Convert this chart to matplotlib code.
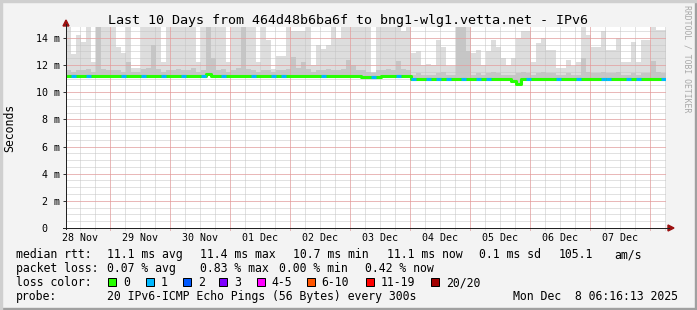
import numpy as np
import matplotlib
matplotlib.use("Agg")
import matplotlib.pyplot as plt
from matplotlib.patches import Rectangle, Polygon
from matplotlib.lines import Line2D

plt.rcParams['font.family'] = ['DejaVu Sans Mono']

W, H = 697, 310

# ---- data ---------------------------------------------------------------
title = "Last 10 Days from 464d48b6ba6f to bng1-wlg1.vetta.net - IPv6"
day_labels = ["28 Nov", "29 Nov", "30 Nov", "01 Dec", "02 Dec",
              "03 Dec", "04 Dec", "05 Dec", "06 Dec", "07 Dec"]
start_hour = 6 + 16 / 60 + 13 / 3600      # Nov 28 06:16:13
span_hours = 240
bin_hours = 2
y_max = 14.8

y_ticks = [0, 2, 4, 6, 8, 10, 12, 14]
y_tick_labels = ["0  ", "2 m", "4 m", "6 m", "8 m", "10 m", "12 m", "14 m"]

# max ping (outer smoke), ms, one value per 2h bin
smoke_top = [
    14.8, 12.8, 14.2, 13.7, 14.8, 12.2, 14.8, 14.8, 14.8, 14.8,
    13.3, 12.9, 14.8, 11.8, 11.8, 14.8, 14.8, 14.8, 14.8, 12.2,
    14.8, 14.8, 14.8, 14.8, 14.8, 14.8, 12.2, 14.8, 14.8, 14.8,
    14.8, 14.8, 12.2, 14.8, 14.8, 14.8, 14.8, 14.8, 12.2, 14.8,
    13.85, 11.7, 12.7, 12.7, 14.8, 14.5, 14.5, 14.5, 14.8, 12.0,
    13.5, 13.2, 13.5, 14.8, 14.0, 14.8, 14.8, 14.8, 14.8, 14.8,
    14.8, 11.5, 14.8, 14.8, 14.8, 14.8, 14.8, 14.5, 14.8, 12.9,
    13.0, 12.0, 12.1, 12.0, 13.85, 13.3, 11.9, 11.9, 14.8, 14.8,
    14.8, 12.9, 13.1, 12.0, 13.0, 13.85, 13.3, 12.5, 12.0, 12.5,
    14.0, 14.5, 14.5, 12.2, 13.6, 14.0, 13.1, 13.1, 11.8, 11.8,
    12.4, 11.9, 12.2, 14.8, 14.2, 13.3, 13.3, 14.5, 13.1, 13.1,
    14.0, 12.2, 12.2, 13.7, 12.2, 13.85, 13.85, 14.8, 14.6, 14.6,
]
# inner smoke, ms
smoke_mid = [
    11.6, 11.5, 11.6, 11.6, 11.7, 11.5, 14.8, 11.7, 11.6, 11.6,
    11.6, 11.5, 12.2, 11.5, 11.5, 11.7, 11.8, 13.5, 11.7, 11.5,
    11.6, 11.6, 11.7, 11.6, 11.6, 11.8, 11.5, 11.6, 14.8, 12.5,
    11.6, 11.7, 11.5, 11.6, 11.8, 14.8, 11.7, 11.6, 11.5, 11.6,
    11.6, 11.5, 11.6, 11.6, 11.7, 12.6, 11.8, 12.2, 11.7, 11.5,
    11.6, 11.6, 11.7, 11.6, 11.6, 11.7, 12.4, 12.0, 11.6, 11.6,
    11.5, 11.4, 11.6, 11.6, 11.7, 11.6, 12.3, 11.7, 11.6, 11.3,
    11.4, 11.3, 11.3, 11.3, 11.4, 11.5, 11.3, 11.3, 14.8, 14.8,
    13.0, 11.3, 11.4, 11.3, 11.4, 11.5, 11.4, 11.3, 11.3, 11.3,
    11.4, 11.5, 11.4, 11.3, 11.4, 11.5, 11.4, 11.4, 11.3, 11.3,
    11.4, 11.3, 11.3, 12.5, 11.5, 11.4, 11.4, 11.5, 11.4, 11.4,
    11.5, 11.3, 11.3, 11.4, 11.3, 11.4, 11.4, 12.3, 11.5, 11.4,
]
# median rtt, ms
median_ms = [
    11.18, 11.18, 11.18, 11.18, 11.18, 11.18, 11.18, 11.18, 11.18, 11.18,
    11.18, 11.18, 11.18, 11.18, 11.18, 11.18, 11.18, 11.18, 11.18, 11.18,
    11.18, 11.18, 11.18, 11.18, 11.18, 11.18, 11.18, 11.18, 11.35, 11.18,
    11.18, 11.18, 11.18, 11.18, 11.18, 11.18, 11.18, 11.18, 11.18, 11.18,
    11.18, 11.18, 11.18, 11.18, 11.18, 11.18, 11.18, 11.18, 11.18, 11.18,
    11.18, 11.18, 11.18, 11.18, 11.18, 11.18, 11.18, 11.18, 11.18, 11.12,
    11.12, 11.12, 11.12, 11.22, 11.22, 11.22, 11.22, 11.22, 11.22, 10.98,
    10.98, 10.98, 10.98, 10.98, 10.98, 10.98, 10.98, 10.98, 10.98, 10.98,
    10.98, 10.98, 10.98, 10.98, 10.98, 10.98, 10.98, 10.98, 10.98, 10.80,
    10.62, 10.98, 10.98, 10.98, 10.98, 10.98, 10.98, 10.98, 10.98, 10.98,
    10.98, 10.98, 10.98, 10.98, 10.98, 10.98, 10.98, 10.98, 10.98, 10.98,
    10.98, 10.98, 10.98, 10.98, 10.98, 10.98, 10.98, 10.98, 10.98, 10.98,
]
# bins with 1/20 lost
loss1_bins = [1, 4, 11, 15, 19, 23, 27, 31, 37, 41, 43, 51, 61, 66, 69, 72,
              74, 76, 79, 82, 84, 92, 98, 102, 107, 108, 112, 114, 119]

loss_names = ["0", "1", "2", "3", "4-5", "6-10", "11-19", "20/20"]
loss_colors = ["#26ff00", "#00b8ff", "#0059ff", "#7e00ff",
               "#ff00ff", "#ff5500", "#ff0000", "#a10000"]

rtt_stats = ["11.1 ms avg", "11.4 ms max", "10.7 ms min", "11.1 ms now",
             "0.1 ms sd", "105.1", "am/s"]
loss_stats = ["0.07 % avg", "0.83 % max", "0.00 % min", "0.42 % now"]
probe_text = "20 IPv6-ICMP Echo Pings (56 Bytes) every 300s"
stamp_text = "Mon Dec  8 06:16:13 2025"

# ---- figure -------------------------------------------------------------
fig = plt.figure(figsize=(W / 100, H / 100), dpi=100, facecolor="#f3f3f3")
ax = fig.add_axes([66 / W, (H - 228) / H, 600 / W, 201 / H])
ax.set_facecolor("white")
ax.set_xlim(0, span_hours)
ax.set_ylim(0, y_max)
for s in ax.spines.values():
    s.set_visible(False)


def px(x, y):
    return x / W, 1 - y / H


def ext(v):
    v = np.asarray(v, float)
    return np.append(v, v[-1])


edges = np.arange(len(median_ms) + 1) * bin_hours
med = np.asarray(median_ms)

# smoke
ax.fill_between(edges, ext(med), ext(smoke_top), step="post",
                color="#dddddd", lw=0, zorder=1)
ax.fill_between(edges, ext(med), ext(smoke_mid), step="post",
                color="#c6c6c6", lw=0, zorder=1.1)

# grid (dotted)
dash = (0, (1, 1))
first_midnight = 24 - start_hour
minor_x = np.arange(first_midnight - 12, span_hours, 6)
major_x = np.arange(first_midnight, span_hours, 24)
gkw = dict(lw=0.72, ls=dash)
for x in minor_x:
    ax.axvline(x, ymin=-0.01, color="#c4c4c4", zorder=2, clip_on=False, **gkw)
for y in np.arange(0.5, y_max, 0.5):
    ax.axhline(y, color="#c4c4c4", zorder=2, **gkw)
for x in major_x:
    ax.axvline(x, ymin=-0.01, color="#f29090", zorder=2.1, clip_on=False, **gkw)
for y in y_ticks[1:]:
    ax.axhline(y, color="#f29090", zorder=2.1, **gkw)

# median line coloured by loss
ax.step(edges, ext(med), where="post", color=loss_colors[0], lw=2.2,
        zorder=4, solid_capstyle="butt")
for i in loss1_bins:
    ax.plot(edges[i:i + 2], [med[i], med[i]], color=loss_colors[1], lw=2.2,
            zorder=5, solid_capstyle="butt")

# ticks
noon_x = first_midnight - 12 + 24 * np.arange(len(day_labels))
ax.set_xticks(noon_x, day_labels)
ax.tick_params(axis="x", length=0, pad=3.6, labelsize=7.2)
ax.set_yticks(y_ticks, y_tick_labels)
ax.tick_params(axis="y", length=2.2, width=0.72, pad=2.2, labelsize=7.2,
               color="#333333")

# axes with arrows
fig.add_artist(Line2D([66 / W, 66 / W], [px(0, 229)[1], px(0, 24)[1]],
                      color="#222222", lw=0.72))
fig.add_artist(Line2D([px(63, 0)[0], px(669, 0)[0]], [px(0, 228)[1]] * 2,
                      color="#222222", lw=0.72))
fig.add_artist(Polygon([px(63, 26), px(69, 26), px(66, 20)], closed=True,
                       transform=fig.transFigure, color="#9b1010"))
fig.add_artist(Polygon([px(668, 225), px(668, 231), px(674, 228)], closed=True,
                       transform=fig.transFigure, color="#9b1010"))

# frame
fig.add_artist(Rectangle((0, 0), 1, 2 / H, transform=fig.transFigure, color="#a0a0a0"))
fig.add_artist(Rectangle((1 - 2 / W, 0), 2 / W, 1, transform=fig.transFigure, color="#a0a0a0"))
fig.add_artist(Rectangle((0, 1 - 2 / H), 1, 2 / H, transform=fig.transFigure, color="#cfcfcf"))
fig.add_artist(Rectangle((0, 0), 2 / W, 1, transform=fig.transFigure, color="#cfcfcf"))

# texts
fig.text(*px(348, 24), title, ha="center", va="baseline", fontsize=9.6)
fig.text(*px(10, 127.5), "Seconds", rotation=90, ha="center", va="center", fontsize=8.3)
fig.text(*px(687, 5), "RRDTOOL / TOBI OETIKER", rotation=270, ha="center", va="top",
         fontsize=5.9, color="#a8a8a8")

tsize = 8.3
rows = [258.3, 272.3, 286, 300]
fig.text(*px(16, rows[0]), "median rtt:", va="baseline", fontsize=tsize)
for x, s in zip([107.3, 200, 293.3, 386.7, 479.3, 558.3, 614], rtt_stats):
    fig.text(*px(x, rows[0]), s, va="baseline", fontsize=tsize)
fig.text(*px(16, rows[1]), "packet loss:", va="baseline", fontsize=tsize)
for x, s in zip([107.3, 200, 279.3, 365], loss_stats):
    fig.text(*px(x, rows[1]), s, va="baseline", fontsize=tsize)
fig.text(*px(16, rows[2]), "loss color:", va="baseline", fontsize=tsize)
box_x = [108.3, 145.7, 182.7, 219.3, 256.7, 306.7, 365.7, 430.7]
for x, c, name in zip(box_x, loss_colors, loss_names):
    fig.add_artist(Rectangle(px(x, rows[2]), 8 / W, 8 / H, transform=fig.transFigure,
                             facecolor=c, edgecolor="black", lw=0.72))
    fig.text(*px(x + 15, rows[2]), name, va="baseline", fontsize=tsize)
fig.text(*px(16, rows[3]), "probe:", va="baseline", fontsize=tsize)
fig.text(*px(107.3, rows[3]), probe_text, va="baseline", fontsize=tsize)
fig.text(*px(512.7, rows[3]), stamp_text, va="baseline", fontsize=tsize)

fig.savefig("out.png", dpi=100, facecolor=fig.get_facecolor())
